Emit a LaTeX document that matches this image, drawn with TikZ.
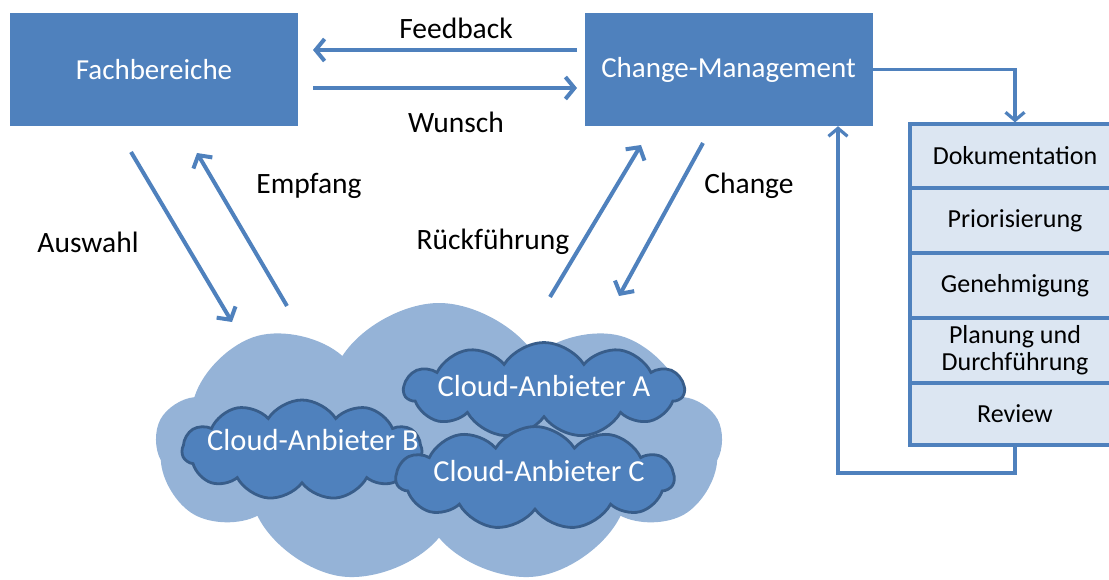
\documentclass[tikz,border=0pt]{standalone}
\usepackage{fontspec}
\setmainfont{Carlito}
\usetikzlibrary{arrows.meta,shapes.symbols}
\definecolor{mblue}{HTML}{4F81BD}
\definecolor{dblue}{HTML}{385D8A}
\definecolor{lblue}{HTML}{95B3D7}
\definecolor{pblue}{HTML}{DCE6F2}
\begin{document}
\begin{tikzpicture}[x=1pt,y=-1pt,
  bigbox/.style={fill=mblue, draw=none, minimum width=288pt, minimum height=113pt, inner sep=0pt, text=white, font=\fontsize{29}{33}\selectfont},
  lbl/.style={font=\fontsize{29.5}{33}\selectfont, text=black},
  arr/.style={draw=mblue, line width=4pt, -{Straight Barb[length=9pt,width=22pt]}},
  conn/.style={draw=mblue, line width=3.2pt, -{Straight Barb[length=8pt,width=19pt]}},
  stackrow/.style={fill=pblue, draw=mblue, line width=3.2pt, minimum width=210pt, inner sep=0pt, font=\fontsize{26}{29}\selectfont, align=center},
  bigcloud/.style={cloud, cloud puffs=9, cloud puff arc=115, cloud ignores aspect, fill=lblue, draw=none, inner sep=0pt},
  smallcloud/.style={cloud, cloud puffs=11, cloud puff arc=115, cloud ignores aspect, fill=mblue, draw=dblue, line width=2.8pt, inner sep=0pt},
  cloudtxt/.style={text=white, font=\fontsize{30.5}{34}\selectfont}
]
\useasboundingbox (0,0) rectangle (1109,580);

% top boxes
\node[bigbox] (fb) at (154,69.5) {Fachbereiche};
\node[bigbox] (cm) at (728.5,69.5) {Change-Management};

% horizontal arrows
\coordinate (fbR1) at (313,50);
\coordinate (cmL1) at (577,50);
\coordinate (fbR2) at (313,88);
\coordinate (cmL2) at (577,88);
\draw[arr] (cmL1) -- (fbR1);
\draw[arr] (fbR2) -- (cmL2);
\node[lbl] (feedback) at (456,28) {Feedback};
\node[lbl] (wunsch) at (456,122) {Wunsch};

% clouds
\node[bigcloud, minimum width=566pt, minimum height=282pt] (big) at (439,444) {};
\node[smallcloud, minimum width=240pt, minimum height=100pt] (cb) at (302,450) {};
\node[smallcloud, minimum width=280pt, minimum height=95pt] (ca) at (544,390) {};
\node[smallcloud, minimum width=278pt, minimum height=103pt] (cc) at (535,478) {};
\node[cloudtxt] (ta) at (544,386) {Cloud-Anbieter A};
\node[cloudtxt] (tb) at (313,440) {Cloud-Anbieter B};
\node[cloudtxt] (tc) at (539,471) {Cloud-Anbieter C};

% diagonal arrows
\coordinate (a1) at (131,152);
\coordinate (a2) at (232,322);
\coordinate (e1) at (287,306);
\coordinate (e2) at (197,153);
\coordinate (r1) at (550,297);
\coordinate (r2) at (641,145);
\coordinate (c1) at (703,143);
\coordinate (c2) at (619,296);
\draw[arr] (a1) -- (a2);
\draw[arr] (e1) -- (e2);
\draw[arr] (r1) -- (r2);
\draw[arr] (c1) -- (c2);
\node[lbl] (auswahl) at (88,242) {Auswahl};
\node[lbl] (empfang) at (309,186) {Empfang};
\node[lbl] (rueck) at (493,242) {Rückführung};
\node[lbl] (change) at (749,186) {Change};

% stack
\node[stackrow, minimum height=64pt] (d1) at (1015,156) {Dokumentation};
\node[stackrow, minimum height=65pt] (d2) at (1015,220.5) {Priorisierung};
\node[stackrow, minimum height=65pt] (d3) at (1015,285.5) {Genehmigung};
\node[stackrow, minimum height=65pt, font=\fontsize{26}{27}\selectfont] (d4) at (1015,350.5) {Planung und\\Durchführung};
\node[stackrow, minimum height=62pt] (d5) at (1015,414) {Review};

% loop connectors
\draw[conn] (cm.east) -| (d1.north);
\coordinate (ret) at (838,473);
\draw[conn] (d5.south) |- (ret) -- (ret |- cm.south);
\end{tikzpicture}
\end{document}
